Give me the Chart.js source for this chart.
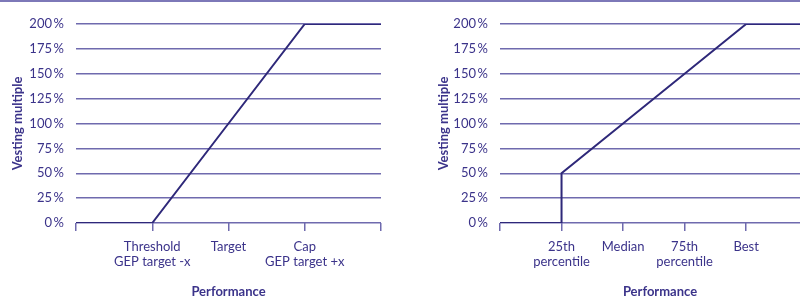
<!DOCTYPE html>
<html>
<head>
<meta charset="utf-8">
<script src="https://cdn.jsdelivr.net/npm/chart.js@4"></script>
<style>
  body { margin: 0; background: #fff; }
  .wrap { position: relative; width: 800px; height: 300px; overflow: hidden; border-top: 2px solid #7d78b8; box-sizing: border-box; }
  .box { position: absolute; top: -2px; height: 300px; overflow: hidden; }
  #left { left: 0; width: 400px; }
  #right { left: 400px; width: 400px; }
</style>
</head>
<body>
<div class="wrap">
  <div class="box" id="left"><canvas id="chartLeft" width="400" height="300"></canvas></div>
  <div class="box" id="right"><canvas id="chartRight" width="430" height="300"></canvas></div>
</div>
<script>
const leftX = [0, 1, 2, 3, 4];
const leftY = [0, 0, 100, 200, 200];
const leftLabels = ["", ["Threshold", "GEP target -x"], "Target", ["Cap", "GEP target +x"], ""];

const rightX = [0, 1, 1, 2, 3, 4, 5];
const rightY = [0, 0, 50, 100, 150, 200, 200];
const rightLabels = ["", ["25th", "percentile"], "Median", ["75th", "percentile"], "Best", ""];

const yTicks = [0, 25, 50, 75, 100, 125, 150, 175, 200];

const TEXT = "#3b338a";
const LINE = "#2e2879";
const GRID = "#6f6aae";
const FONT = "Lato, 'DejaVu Sans', sans-serif";

const makeChart = (id, xs, ys, labels, cfg) => {
  const ctx = document.querySelector(id);
  return new Chart(ctx, {
    type: "scatter",
    data: {
      datasets: [
        {
          data: xs.map((x, i) => ({ x, y: ys[i] })),
          showLine: true,
          borderColor: LINE,
          borderWidth: 2,
          pointRadius: 0,
          tension: 0,
        },
      ],
    },
    options: {
      responsive: false,
      animation: false,
      layout: { padding: { top: 24, right: cfg.padRight, bottom: 0, left: 0 } },
      plugins: { legend: { display: false }, tooltip: { enabled: false } },
      scales: {
        x: {
          type: "linear",
          min: 0,
          max: cfg.xMax,
          afterBuildTicks: (s) => {
            s.ticks = labels.map((_, i) => ({ value: i }));
          },
          afterFit: (s) => {
            s.height = 77;
          },
          border: { display: false },
          grid: {
            drawOnChartArea: false,
            drawTicks: true,
            tickLength: 8,
            color: GRID,
            lineWidth: 1.5,
          },
          ticks: {
            color: TEXT,
            padding: 8,
            maxRotation: 0,
            autoSkip: false,
            font: { family: FONT, size: 13, lineHeight: 1.15 },
            callback: (v) => labels[v] ?? "",
          },
          title: {
            display: true,
            text: "Performance",
            color: TEXT,
            padding: { top: 0, bottom: 0 },
            font: { family: FONT, size: 13, weight: "bold" },
          },
        },
        y: {
          min: 0,
          max: 200,
          afterBuildTicks: (s) => {
            s.ticks = yTicks.map((v) => ({ value: v }));
          },
          afterFit: (s) => {
            s.width = cfg.yWidth;
          },
          border: { display: false },
          grid: { drawTicks: false, color: GRID, lineWidth: 1.4 },
          ticks: {
            color: TEXT,
            padding: 12,
            font: { family: FONT, size: 13 },
            callback: (v) => `${v}\u2009%`,
          },
          title: {
            display: true,
            text: "Vesting multiple",
            color: TEXT,
            padding: { top: cfg.yTitlePad, bottom: 0 },
            font: { family: FONT, size: 13, weight: "bold" },
          },
        },
      },
    },
  });
};

makeChart("#chartLeft", leftX, leftY, leftLabels, { xMax: 4, padRight: 19, yWidth: 76, yTitlePad: 10 });
makeChart("#chartRight", rightX, rightY, rightLabels, { xMax: 5.2, padRight: 10, yWidth: 100, yTitlePad: 36 });
</script>
</body>
</html>
